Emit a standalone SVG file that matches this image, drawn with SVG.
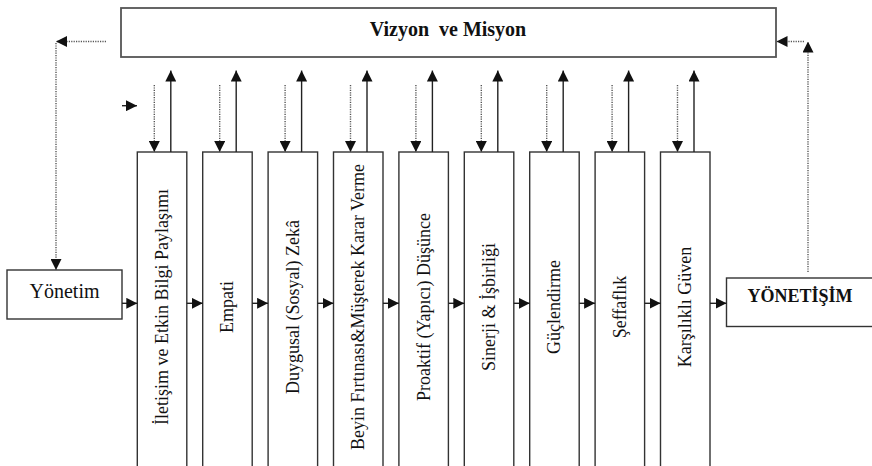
<svg xmlns="http://www.w3.org/2000/svg" width="872" height="466" viewBox="0 0 872 466">
<style>
.box{fill:#fff;stroke:#333;stroke-width:1.4}
.t{fill:#111}
.vt{font-size:18px;fill:#111;text-anchor:middle}
.sol{stroke:#222;stroke-width:1.4;fill:none}
.dot{stroke:#555;stroke-width:1.4;stroke-dasharray:1.2 1.2;fill:none}
</style>
<defs>
<marker id="ah" viewBox="0 0 10 10" refX="10" refY="5" markerWidth="11" markerHeight="11" markerUnits="userSpaceOnUse" orient="auto">
<path d="M0,0 L10,5 L0,10 z" fill="#111"/>
</marker>
</defs>
<rect width="872" height="466" fill="#fff"/>
<g font-family="'Liberation Serif', 'DejaVu Serif', serif">
<g id="vizyon">
<rect class="box" x="121" y="8" width="655" height="49" style="stroke:#555;stroke-width:1.8"/>
<text class="t" x="448" y="36" font-size="20" font-weight="bold" text-anchor="middle" xml:space="preserve">Vizyon  ve Misyon</text>
</g>
<g id="yonetim">
<rect class="box" x="7" y="270" width="115" height="49"/>
<text class="t" x="64.5" y="298" font-size="20" text-anchor="middle">Yönetim</text>
</g>
<g id="yonetisim">
<rect class="box" x="726.5" y="278" width="160" height="48.5"/>
<text class="t" x="800" y="302" font-size="18" font-weight="bold" text-anchor="middle">YÖNETİŞİM</text>
</g>
<g id="n1"><rect class="box" x="137.3" y="152" width="49.5" height="330"/><text class="vt" transform="translate(168,307) rotate(-90)">İletişim ve Etkin Bilgi Paylaşımı</text></g>
<g id="n2"><rect class="box" x="202.7" y="152" width="49.5" height="330"/><text class="vt" transform="translate(233.4,307) rotate(-90)">Empati</text></g>
<g id="n3"><rect class="box" x="268.1" y="152" width="49.5" height="330"/><text class="vt" transform="translate(298.8,307) rotate(-90)">Duygusal (Sosyal) Zekâ</text></g>
<g id="n4"><rect class="box" x="333.5" y="152" width="49.5" height="330"/><text class="vt" transform="translate(364.2,307) rotate(-90)">Beyin Fırtınası&amp;Müşterek Karar Verme</text></g>
<g id="n5"><rect class="box" x="398.9" y="152" width="49.5" height="330"/><text class="vt" transform="translate(429.6,307) rotate(-90)">Proaktif (Yapıcı) Düşünce</text></g>
<g id="n6"><rect class="box" x="464.3" y="152" width="49.5" height="330"/><text class="vt" transform="translate(495,307) rotate(-90)">Sinerji &amp; İşbirliği</text></g>
<g id="n7"><rect class="box" x="529.7" y="152" width="49.5" height="330"/><text class="vt" transform="translate(560.4,307) rotate(-90)">Güçlendirme</text></g>
<g id="n8"><rect class="box" x="595.1" y="152" width="49.5" height="330"/><text class="vt" transform="translate(625.8,307) rotate(-90)">Şeffaflık</text></g>
<g id="n9"><rect class="box" x="660.5" y="152" width="49.5" height="330"/><text class="vt" transform="translate(691.2,307) rotate(-90)">Karşılıklı Güven</text></g>
</g>
<g id="connectors">
<path class="dot" d="M106,41.5 H56" marker-end="url(#ah)"/>
<path class="dot" d="M56,43 V270" marker-end="url(#ah)"/>
<path class="dot" d="M808,272 V41.5" marker-end="url(#ah)"/>
<path class="dot" d="M804,41.5 H776.5" marker-end="url(#ah)"/>
<path class="sol" d="M122,105.7 H137" marker-end="url(#ah)"/>
<path class="sol" d="M122,303.3 H137.3" marker-end="url(#ah)"/>
<path class="sol" d="M186.8,303.3 H202.7" marker-end="url(#ah)"/>
<path class="sol" d="M252.2,303.3 H268.1" marker-end="url(#ah)"/>
<path class="sol" d="M317.6,303.3 H333.5" marker-end="url(#ah)"/>
<path class="sol" d="M383,303.3 H398.9" marker-end="url(#ah)"/>
<path class="sol" d="M448.4,303.3 H464.3" marker-end="url(#ah)"/>
<path class="sol" d="M513.8,303.3 H529.7" marker-end="url(#ah)"/>
<path class="sol" d="M579.2,303.3 H595.1" marker-end="url(#ah)"/>
<path class="sol" d="M644.6,303.3 H660.5" marker-end="url(#ah)"/>
<path class="sol" d="M710,303.3 H726.5" marker-end="url(#ah)"/>
<path class="dot" d="M154.3,85 V152" marker-end="url(#ah)"/>
<path class="sol" d="M170.8,152 V70.5" marker-end="url(#ah)"/>
<path class="dot" d="M219.7,85 V152" marker-end="url(#ah)"/>
<path class="sol" d="M236.2,152 V70.5" marker-end="url(#ah)"/>
<path class="dot" d="M285.1,85 V152" marker-end="url(#ah)"/>
<path class="sol" d="M301.6,152 V70.5" marker-end="url(#ah)"/>
<path class="dot" d="M350.5,85 V152" marker-end="url(#ah)"/>
<path class="sol" d="M367,152 V70.5" marker-end="url(#ah)"/>
<path class="dot" d="M415.9,85 V152" marker-end="url(#ah)"/>
<path class="sol" d="M432.4,152 V70.5" marker-end="url(#ah)"/>
<path class="dot" d="M481.3,85 V152" marker-end="url(#ah)"/>
<path class="sol" d="M497.8,152 V70.5" marker-end="url(#ah)"/>
<path class="dot" d="M546.7,85 V152" marker-end="url(#ah)"/>
<path class="sol" d="M563.2,152 V70.5" marker-end="url(#ah)"/>
<path class="dot" d="M612.1,85 V152" marker-end="url(#ah)"/>
<path class="sol" d="M628.6,152 V70.5" marker-end="url(#ah)"/>
<path class="dot" d="M677.5,85 V152" marker-end="url(#ah)"/>
<path class="sol" d="M694,152 V70.5" marker-end="url(#ah)"/>
</g>
</svg>
